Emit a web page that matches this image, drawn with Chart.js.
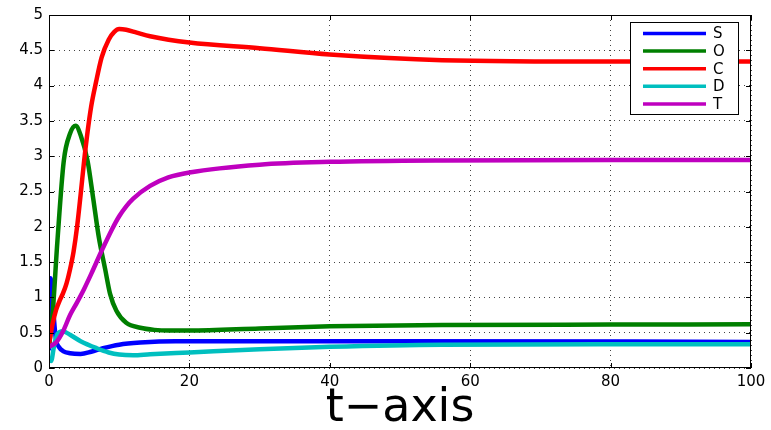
<!DOCTYPE html>
<html>
<head>
<meta charset="utf-8">
<script src="https://cdn.jsdelivr.net/npm/chart.js@4.4.0/dist/chart.umd.min.js"></script>
<style>
    html, body { margin: 0; padding: 0; background: #fff; }
    #wrap { width: 771px; height: 430px; }
</style>
</head>
<body>
<div id="wrap"><canvas id="chart" width="771" height="430"></canvas></div>
<script>
const seriesNames = ['S', 'O', 'C', 'D', 'T'];
const seriesColors = ['#0000ff', '#007f00', '#ff0000', '#00bfbf', '#bf00bf'];

const tS = [0, 0.1, 0.2, 0.4, 0.7, 1, 1.4, 2, 3, 4.5, 6, 7.7, 10, 13, 18, 30, 50, 100];
const S  = [0.25, 1.0, 1.27, 1.15, 0.7, 0.4, 0.3, 0.24, 0.21, 0.2, 0.23, 0.28, 0.33, 0.36, 0.38, 0.38, 0.38, 0.37];

const tO = [0, 0.5, 1.2, 2.1, 3, 3.8, 4.5, 5.5, 6.3, 7.1, 8, 8.7, 9.6, 11, 13, 15, 17, 20, 30, 40, 56, 80, 100];
const O  = [0.3, 0.75, 1.8, 2.93, 3.32, 3.43, 3.3, 2.93, 2.4, 1.85, 1.4, 1.05, 0.81, 0.64, 0.57, 0.54, 0.53, 0.53, 0.56, 0.59, 0.61, 0.615, 0.62];

const tC = [0, 0.5, 1, 1.5, 2, 2.5, 3, 3.5, 4, 4.5, 5, 5.5, 6, 6.7, 7.5, 8.5, 9.3, 10, 11, 12.5, 14.4, 20, 30, 40, 56, 80, 100];
const C  = [0.35, 0.62, 0.82, 0.95, 1.06, 1.2, 1.4, 1.65, 2.0, 2.45, 2.93, 3.35, 3.7, 4.05, 4.4, 4.65, 4.76, 4.8, 4.79, 4.75, 4.7, 4.61, 4.53, 4.44, 4.36, 4.34, 4.34];

const tD = [0, 0.3, 0.7, 1.2, 2, 3, 4.5, 6.8, 8.5, 10, 12, 14.4, 20, 30, 40, 56, 80, 100];
const D  = [0.12, 0.1, 0.3, 0.48, 0.52, 0.47, 0.38, 0.28, 0.22, 0.19, 0.18, 0.195, 0.22, 0.265, 0.3, 0.33, 0.335, 0.336];

const tT = [0, 1, 2, 3, 4, 5, 6, 7.5, 9, 10, 11, 12, 14.4, 17, 20, 30, 40, 56, 80, 100];
const T  = [0.3, 0.36, 0.52, 0.75, 0.93, 1.12, 1.33, 1.66, 1.97, 2.15, 2.29, 2.4, 2.58, 2.7, 2.77, 2.88, 2.92, 2.94, 2.945, 2.945];

const xTicks = [0, 20, 40, 60, 80, 100];
const yTicks = [0, 0.5, 1, 1.5, 2, 2.5, 3, 3.5, 4, 4.5, 5];

const seriesTimes = [tS, tO, tC, tD, tT];
const seriesValues = [S, O, C, D, T];

const fontFamily = '"DejaVu Sans", Verdana, sans-serif';

const datasets = seriesNames.map((name, i) => ({
    label: name,
    data: seriesTimes[i].map((t, k) => ({ x: t, y: seriesValues[i][k] })),
    borderColor: seriesColors[i],
    backgroundColor: seriesColors[i],
    borderWidth: 4.5,
    pointRadius: 0,
    fill: false,
    cubicInterpolationMode: 'monotone',
    order: seriesNames.length - i
}));

// box round the plot area, inward ticks, legend inside top right
const boxPlugin = {
    id: 'boxPlugin',
    afterDatasetsDraw(chart) {
        const ctx = chart.ctx;
        const a = chart.chartArea;
        const xs = chart.scales.x;
        const ys = chart.scales.y;
        ctx.save();
        ctx.strokeStyle = '#000';
        ctx.lineWidth = 1;
        ctx.strokeRect(a.left + 0.5, a.top + 0.5, a.right - a.left - 1, a.bottom - a.top - 1);
        ctx.beginPath();
        xTicks.forEach(v => {
            const px = Math.round(xs.getPixelForValue(v)) + 0.5;
            ctx.moveTo(px, a.bottom); ctx.lineTo(px, a.bottom - 5);
            ctx.moveTo(px, a.top); ctx.lineTo(px, a.top + 5);
        });
        yTicks.forEach(v => {
            const py = Math.round(ys.getPixelForValue(v)) + 0.5;
            ctx.moveTo(a.left, py); ctx.lineTo(a.left + 5, py);
            ctx.moveTo(a.right, py); ctx.lineTo(a.right - 5, py);
        });
        ctx.stroke();

        // legend
        const lx = 630, ly = 22, lw = 108, lh = 92;
        ctx.fillStyle = '#fff';
        ctx.fillRect(lx, ly, lw, lh);
        ctx.strokeRect(lx + 0.5, ly + 0.5, lw, lh);
        ctx.font = '15px ' + fontFamily;
        ctx.textBaseline = 'middle';
        ctx.textAlign = 'left';
        chart.data.datasets.forEach((ds, i) => {
            const y = ly + 11.5 + i * 17.6;
            ctx.strokeStyle = ds.borderColor;
            ctx.lineWidth = 3.5;
            ctx.beginPath();
            ctx.moveTo(643, y);
            ctx.lineTo(706, y);
            ctx.stroke();
            ctx.fillStyle = '#000';
            ctx.fillText(ds.label, 713, y + 1);
        });
        ctx.restore();
    }
};

const ctx = document.getElementById('chart').getContext('2d');
new Chart(ctx, {
    type: 'line',
    data: { datasets: datasets },
    plugins: [boxPlugin],
    options: {
        responsive: false,
        animation: false,
        layout: { padding: { left: 0, right: 20, top: 14, bottom: 0 } },
        plugins: {
            legend: { display: false },
            title: { display: false },
            tooltip: { enabled: false }
        },
        scales: {
            x: {
                type: 'linear',
                min: 0,
                max: 100,
                afterFit: s => { s.height = 62; },
                afterBuildTicks: s => { s.ticks = xTicks.map(v => ({ value: v })); },
                ticks: {
                    padding: 5,
                    color: '#000',
                    font: { family: fontFamily, size: 15 },
                    maxRotation: 0
                },
                grid: { color: '#444', drawTicks: false, lineWidth: 1 },
                border: { display: false, dash: [1, 4] },
                title: {
                    display: true,
                    text: 't\u2212axis',
                    color: '#000',
                    font: { family: fontFamily, size: 46, lineHeight: 0.92 },
                    padding: { top: 0, bottom: 0 }
                }
            },
            y: {
                min: 0,
                max: 5,
                afterFit: s => { s.width = 49; },
                afterBuildTicks: s => { s.ticks = yTicks.map(v => ({ value: v })); },
                ticks: {
                    padding: 6,
                    color: '#000',
                    font: { family: fontFamily, size: 15 },
                    callback: v => String(v)
                },
                grid: { color: '#444', drawTicks: false, lineWidth: 1 },
                border: { display: false, dash: [1, 4] }
            }
        }
    }
});
</script>
</body>
</html>
